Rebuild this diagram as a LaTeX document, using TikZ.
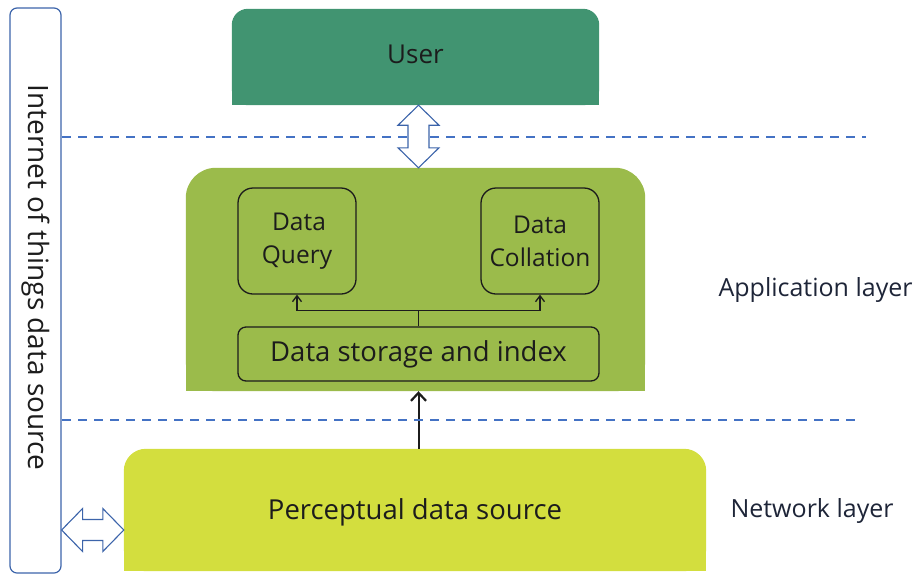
\documentclass[tikz,border=0pt]{standalone}
\usepackage{fontspec}
\setmainfont{Open Sans}
\usetikzlibrary{arrows.meta,backgrounds,calc}

\definecolor{usergreen}{HTML}{419471}
\definecolor{appgreen}{HTML}{9BBB4B}
\definecolor{srcgreen}{HTML}{D3DE3E}
\definecolor{lineblue}{HTML}{4472C4}
\definecolor{arrowblue}{HTML}{3C64AA}
\definecolor{inkdark}{HTML}{1C1C1C}
\definecolor{labelink}{HTML}{1E2538}

\tikzset{
  layerbox/.style={inner sep=0, text=inkdark},
  innerbox/.style={draw=inkdark, line width=1.3pt, inner sep=0, align=center, text=inkdark},
  sidelabel/.style={anchor=west, text=labelink, font=\fontsize{25}{30}\selectfont},
  blockline/.style={draw=arrowblue, fill=white, line width=1.1pt, line join=miter},
  divider/.style={lineblue, line width=1.4pt, dash pattern=on 9pt off 7pt},
  branch/.style={inkdark, line width=1.3pt, -{Straight Barb[length=6pt,width=9pt,line width=1.3pt]}},
}

\begin{document}
\begin{tikzpicture}[x=1pt, y=-1pt]
\useasboundingbox (0,0) rectangle (917,574);

% side bar
\node[draw=arrowblue, line width=1.2pt, rounded corners=7, minimum width=51, minimum height=565, inner sep=0]
  (iot) at (35.5,290.5) {};
\node[rotate=-90, text=inkdark, font=\fontsize{28}{32}\selectfont] (iotlabel) at (36,277.5) {Internet of things data source};

% layers
\node[layerbox, minimum width=367, minimum height=96,
  label={[yshift=3pt, text=inkdark, font=\fontsize{26}{30}\selectfont]center:User}] (user) at (415.5,57) {};
\node[layerbox, minimum width=459, minimum height=223] (app) at (415.5,279.5) {};
\node[layerbox, minimum width=582, minimum height=122,
  label={[yshift=-2pt, text=inkdark, font=\fontsize{27.5}{32}\selectfont]center:Perceptual data source}] (src) at (415,510) {};

\begin{scope}[on background layer]
  \fill[usergreen, rounded corners=16] (user.south west) rectangle (user.north east);
  \fill[usergreen] (user.west) rectangle (user.south east);
  \fill[appgreen, rounded corners=30] (app.south west) rectangle (app.north east);
  \fill[appgreen] (app.west) rectangle (app.south east);
  \fill[srcgreen, rounded corners=22] (src.south west) rectangle (src.north east);
  \fill[srcgreen] (src.west) rectangle (src.south east);
\end{scope}

% inner modules
\node[innerbox, rounded corners=15, minimum width=118, minimum height=106,
  font=\fontsize{24.5}{33}\selectfont] (query) at (297,241) {\hspace*{4pt}Data\\Query};
\node[innerbox, rounded corners=15, minimum width=118, minimum height=106,
  font=\fontsize{24.5}{33}\selectfont] (collation) at (540,241) {Data\\Collation};
\node[innerbox, rounded corners=8, minimum width=361, minimum height=54,
  font=\fontsize{27.5}{32}\selectfont] (storage) at (418.5,354) {Data storage and index};

\draw[inkdark, line width=1.3pt] (storage.north) -- ++(0,-16) coordinate (split);
\draw[branch] (split) -| (query.south);
\draw[branch] (split) -| (collation.south);

% flow from source to application layer
\draw[inkdark, line width=2pt, -{Straight Barb[length=8pt,width=15pt,line width=2.2pt]}] (src.north -| storage.south) -- (app.south -| storage.south);

% layer dividers
\coordinate (d1a) at (62,137);
\coordinate (d1b) at (866,137);
\coordinate (d2a) at (62,420);
\coordinate (d2b) at (862,420);
\draw[divider] (d1a) -- (d1b);
\draw[divider] (d2a) -- (d2b);

% two-way exchange between user and application layer
\coordinate (ua) at (user.south -| storage.north);
\coordinate (ub) at (app.north -| storage.north);
\draw[blockline] (ua) -- ($(ua)+(20.5,20)$) -- ($(ua)+(10.5,20)$) -- ($(ub)+(10.5,-20)$)
  -- ($(ub)+(20.5,-20)$) -- (ub) -- ($(ub)+(-20.5,-20)$) -- ($(ub)+(-10.5,-20)$)
  -- ($(ua)+(-10.5,20)$) -- ($(ua)+(-20.5,20)$) -- cycle;

% two-way exchange between side bar and source layer
\coordinate (la) at (iot.east |- 0,530);
\coordinate (lb) at (src.west |- 0,530);
\draw[blockline] (la) -- ($(la)+(21,-21.5)$) -- ($(la)+(21,-10.5)$) -- ($(lb)+(-21,-10.5)$)
  -- ($(lb)+(-21,-21.5)$) -- (lb) -- ($(lb)+(-21,21.5)$) -- ($(lb)+(-21,10.5)$)
  -- ($(la)+(21,10.5)$) -- ($(la)+(21,21.5)$) -- cycle;

% layer names
\node[sidelabel] (applabel) at (715,290) {Application layer};
\node[sidelabel] (netlabel) at (727,511) {Network layer};
\end{tikzpicture}
\end{document}
